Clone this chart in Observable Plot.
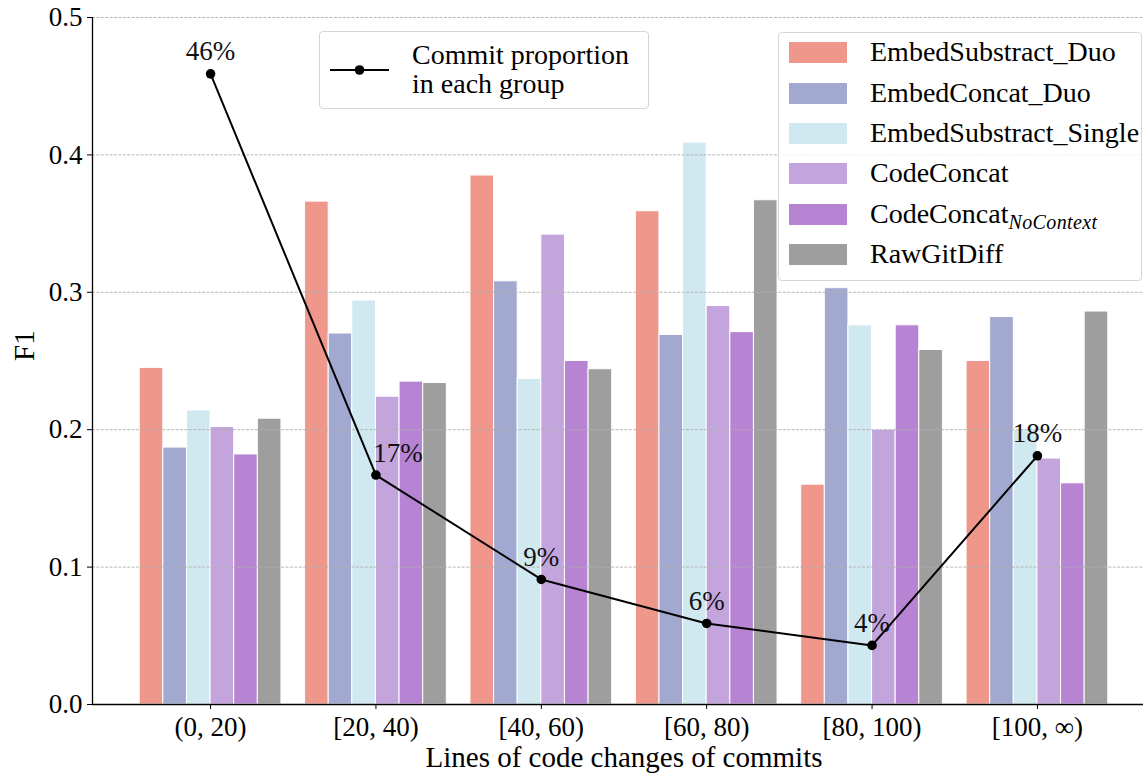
<!DOCTYPE html>
<html>
<head>
<meta charset="utf-8">
<script src="https://cdn.jsdelivr.net/npm/d3@7"></script>
<script src="https://cdn.jsdelivr.net/npm/@observablehq/plot@0.6"></script>
<style>
  html, body { margin: 0; padding: 0; background: white; overflow: hidden; }
  #wrap { position: relative; width: 1143px; height: 777px; overflow: hidden; font-family: "Liberation Serif", "DejaVu Serif", "Times New Roman", serif; color: #000; }
  #wrap svg.plot { position: absolute; left: 0; top: 0; max-width: none !important; }
  .legend { position: absolute; box-sizing: border-box; border: 1px solid #d5d5d5; border-radius: 4px; background: rgba(255,255,255,0.8); }
  .row { position: absolute; left: 0; height: 40px; display: flex; align-items: center; font-size: 28px; white-space: nowrap; }
  .sw { position: absolute; left: 10px; width: 58px; height: 21px; }
  .lbl { position: absolute; left: 91px; line-height: 1.15; }
  sub { font-size: 20px; font-style: italic; vertical-align: -6px; line-height: 0; letter-spacing: 0.4px; }
</style>
</head>
<body>
<div id="wrap"></div>
<script>
// ---------- data ----------
const groups = ["(0, 20)", "[20, 40)", "[40, 60)", "[60, 80)", "[80, 100)", "[100, \u221e)"];
const seriesNames = ["EmbedSubstract_Duo", "EmbedConcat_Duo", "EmbedSubstract_Single", "CodeConcat", "CodeConcat_NoContext", "RawGitDiff"];
const seriesColors = ["#ef978a", "#a2a9d0", "#d0e9f0", "#c4a4dd", "#b783d3", "#9e9e9e"];

const embedSubstractDuo    = [0.245, 0.366, 0.385, 0.359, 0.160, 0.250];
const embedConcatDuo       = [0.187, 0.270, 0.308, 0.269, 0.303, 0.282];
const embedSubstractSingle = [0.214, 0.294, 0.237, 0.409, 0.276, 0.200];
const codeConcat           = [0.202, 0.224, 0.342, 0.290, 0.200, 0.179];
const codeConcatNoContext  = [0.182, 0.235, 0.250, 0.271, 0.276, 0.161];
const rawGitDiff           = [0.208, 0.234, 0.244, 0.367, 0.258, 0.286];

const commitProportion = [0.459, 0.167, 0.091, 0.059, 0.043, 0.181];
const proportionLabels = ["46%", "17%", "9%", "6%", "4%", "18%"];

const yTicks = [0.0, 0.1, 0.2, 0.3, 0.4, 0.5];
const gridTicks = [0.1, 0.2, 0.3, 0.4, 0.5];

// ---------- derived tables ----------
const seriesValues = [embedSubstractDuo, embedConcatDuo, embedSubstractSingle, codeConcat, codeConcatNoContext, rawGitDiff];
const barW = 1 / 7;
const bars = [];
seriesValues.forEach((vals, s) => {
  vals.forEach((v, g) => {
    bars.push({ series: seriesNames[s], g, s, value: v });
  });
});
const linePts = commitProportion.map((p, g) => ({ g, p, label: proportionLabels[g] }));

const xMin = -0.714, xMax = 5.714;
const FONT = "'Liberation Serif', 'DejaVu Serif', 'Times New Roman', serif";

const chart = Plot.plot({
  width: 1155,
  height: 777,
  marginLeft: 92,
  marginRight: 0,
  marginTop: 17,
  marginBottom: 73,
  style: { fontFamily: FONT, fontSize: "27px", color: "#000", background: "transparent", overflow: "visible", maxWidth: "none" },
  x: { type: "linear", domain: [xMin, xMax] },
  y: { domain: [0, 0.5] },
  color: { domain: seriesNames, range: seriesColors },
  marks: [
    Plot.rectY(bars, {
      x1: d => d.g + (d.s - 3) * barW,
      x2: d => d.g + (d.s - 2) * barW,
      y: "value",
      fill: "series",
      stroke: "white",
      strokeWidth: 1
    }),
    Plot.ruleY(gridTicks, { stroke: "#b0b0b0", strokeWidth: 0.9, strokeDasharray: "3,1.4" }),
    Plot.line(linePts, { x: "g", y: "p", stroke: "black", strokeWidth: 2 }),
    Plot.dot(linePts, { x: "g", y: "p", r: 4.8, fill: "black", stroke: "none" }),
    Plot.text(linePts.filter(d => d.g !== 1), { x: "g", y: "p", text: "label", dy: -22, fontSize: 27, fill: "#111" }),
    Plot.text(linePts.filter(d => d.g === 1), { x: "g", y: "p", text: "label", dy: -22, dx: 22, fontSize: 27, fill: "#111" }),
    Plot.ruleY([0], { stroke: "black", strokeWidth: 1.3 }),
    Plot.ruleX([xMin], { stroke: "black", strokeWidth: 1.3 }),
    Plot.axisX({ ticks: d3.range(groups.length), tickFormat: i => groups[i], tickSize: 5, tickPadding: 7, label: null, fontSize: 27 }),
    Plot.axisY({ ticks: yTicks, tickFormat: d3.format(".1f"), tickSize: 5, tickPadding: 5, label: null, fontSize: 27 }),
    Plot.text(["Lines of code changes of commits"], { frameAnchor: "bottom", dy: 62, fontSize: 29, letterSpacing: 0.9 }),
    Plot.text(["F1"], { frameAnchor: "left", dx: -68, rotate: -90, fontSize: 29 })
  ]
});
chart.classList.add("plot");
chart.style.maxWidth = "none";

const wrap = document.getElementById("wrap");
wrap.appendChild(chart);

// ---------- legend: series ----------
const leg1 = document.createElement("div");
leg1.className = "legend";
Object.assign(leg1.style, { left: "778px", top: "32px", width: "364px", height: "249px" });
const rowCenters = [20.5, 61, 101.2, 141.5, 182, 222];
const labelHtml = ["EmbedSubstract_Duo", "EmbedConcat_Duo", "EmbedSubstract_Single", "CodeConcat", "CodeConcat<sub>NoContext</sub>", "RawGitDiff"];
seriesNames.forEach((name, i) => {
  const row = document.createElement("div");
  row.className = "row";
  row.style.top = (rowCenters[i] - 1 - 20) + "px";
  row.style.width = "360px";
  const sw = document.createElement("div");
  sw.className = "sw";
  sw.style.background = seriesColors[i];
  sw.style.top = "9.5px";
  const lb = document.createElement("div");
  lb.className = "lbl";
  lb.innerHTML = labelHtml[i];
  row.appendChild(sw);
  row.appendChild(lb);
  leg1.appendChild(row);
});
wrap.appendChild(leg1);

// ---------- legend: commit proportion ----------
const leg2 = document.createElement("div");
leg2.className = "legend";
Object.assign(leg2.style, { left: "319px", top: "31px", width: "330px", height: "78px" });
leg2.innerHTML = `
  <svg width="70" height="20" style="position:absolute;left:10px;top:28px;overflow:visible">
    <line x1="0" x2="59" y1="10" y2="10" stroke="black" stroke-width="2"></line>
    <circle cx="29.5" cy="10" r="4.8" fill="black"></circle>
  </svg>
  <div style="position:absolute;left:92px;top:8px;font-size:28px;line-height:29px;white-space:nowrap;">Commit proportion<br>in each group</div>`;
wrap.appendChild(leg2);
</script>
</body>
</html>
